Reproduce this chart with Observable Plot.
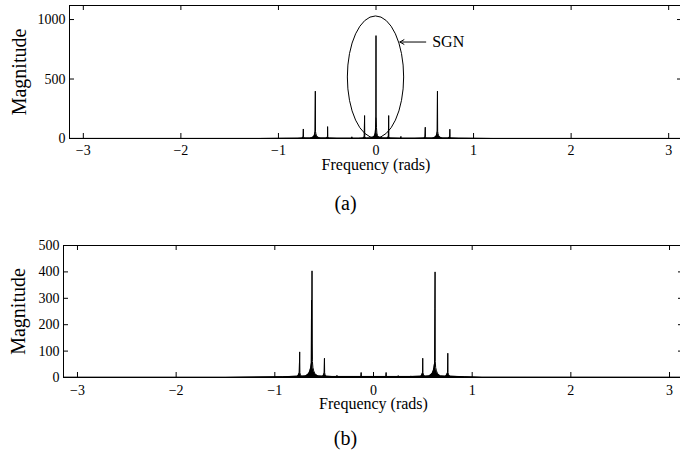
<!DOCTYPE html>
<html><head><meta charset="utf-8">
<script src="https://cdn.jsdelivr.net/npm/d3@7"></script>
<script src="https://cdn.jsdelivr.net/npm/@observablehq/plot@0.6"></script>
<style>
html,body{margin:0;padding:0;background:#fff;overflow:hidden;}
#chart svg{display:block;}
</style></head><body><div id="chart"></div>
<script>
const PI = Math.PI;
const xTicks = [-3, -2, -1, 0, 1, 2, 3];
const topYTicks = [0, 500, 1000];
const bottomYTicks = [0, 100, 200, 300, 400, 500];

// Panel (a): spectrum trace (frequency in rads, magnitude)
const topFreq = [-3.1416, -2.0, -1.2, -0.92, -0.80,
  -0.76, -0.75, -0.746, -0.745, -0.743, -0.738, -0.73,
  -0.68, -0.66, -0.645, -0.635, -0.628, -0.624, -0.622, -0.620, -0.616, -0.609, -0.598, -0.583, -0.565,
  -0.51, -0.50, -0.497, -0.496, -0.494, -0.49, -0.48,
  -0.40, -0.25, -0.247, -0.245, -0.18,
  -0.135, -0.125, -0.12, -0.117, -0.115, -0.11, -0.10, -0.06,
  -0.04, -0.025, -0.015, -0.008, -0.004, -0.002, -0.001, 0.0, 0.001, 0.003, 0.005, 0.009, 0.016, 0.026, 0.04,
  0.07, 0.11, 0.12, 0.127, 0.13, 0.132, 0.14, 0.15,
  0.25, 0.256, 0.258, 0.40,
  0.49, 0.50, 0.503, 0.505, 0.507, 0.51, 0.52,
  0.575, 0.592, 0.607, 0.617, 0.624, 0.628, 0.630, 0.632, 0.636, 0.643, 0.654, 0.668, 0.685,
  0.74, 0.75, 0.755, 0.757, 0.759, 0.765, 0.775,
  0.85, 0.95, 1.2, 2.0, 3.1416];
const topMag = [1, 1, 1, 2, 3,
  4, 8, 16, 80, 16, 8, 4,
  4, 7, 12, 22, 40, 60, 398, 60, 40, 22, 12, 7, 4,
  4, 8, 16, 100, 16, 8, 4,
  3, 3, 14, 3, 3,
  4, 8, 16, 193, 16, 8, 4, 5,
  8, 14, 24, 45, 90, 172, 172, 865, 172, 172, 90, 45, 24, 14, 8,
  5, 4, 8, 16, 193, 16, 8, 4,
  3, 17, 3, 3,
  4, 8, 16, 95, 16, 8, 4,
  4, 7, 12, 22, 40, 60, 398, 60, 40, 22, 12, 7, 4,
  4, 8, 16, 78, 16, 8, 4,
  3, 2, 1, 1, 1];

// Panel (b): spectrum trace
const bottomFreq = [-3.1416, -1.5, -0.92, -0.85,
  -0.77, -0.76, -0.752, -0.748, -0.746, -0.74, -0.73,
  -0.69, -0.67, -0.655, -0.645, -0.636, -0.630, -0.628, -0.626, -0.623, -0.621, -0.619, -0.614, -0.606, -0.596, -0.582, -0.562,
  -0.515, -0.505, -0.499, -0.497, -0.495, -0.49, -0.48,
  -0.42, -0.372, -0.37, -0.368,
  -0.2, -0.127, -0.125, -0.123,
  0.0, 0.126, 0.128, 0.13,
  0.25, 0.252, 0.254, 0.38, 0.382, 0.384,
  0.48, 0.49, 0.497, 0.499, 0.501, 0.508, 0.52,
  0.56, 0.58, 0.595, 0.605, 0.613, 0.619, 0.622, 0.624, 0.626, 0.63, 0.638, 0.648, 0.662, 0.68,
  0.73, 0.742, 0.75, 0.753, 0.755, 0.762, 0.775,
  0.85, 0.92, 1.1, 3.1416];
const bottomMag = [0.5, 0.5, 3, 4,
  5, 10, 18, 97, 18, 10, 5,
  6, 10, 16, 25, 38, 55, 293, 70, 404, 127, 60, 38, 25, 16, 10, 6,
  5, 10, 18, 73, 18, 10, 5,
  4, 4, 8, 4,
  4, 4, 19, 4,
  4, 4, 19, 4,
  4, 7, 4, 4, 6, 4,
  5, 10, 18, 73, 18, 10, 5,
  6, 10, 16, 25, 38, 55, 260, 400, 60, 38, 25, 16, 10, 6,
  5, 10, 18, 92, 18, 10, 5,
  4, 3, 1, 0.5];

// Annotation for panel (a)
const sgnLabel = "SGN";
const sgnText = {x: 0.576, y: 811};
const sgnArrow = {x1: 0.51, x2: 0.245, y: 811};
const sgnEllipse = {cx: 0, cy: 513, rx: 0.2885, ry: 513};

const topData = topFreq.map((f, i) => ({f, m: topMag[i]}));
const bottomData = bottomFreq.map((f, i) => ({f, m: bottomMag[i]}));

const serif = "'Liberation Serif', 'Times New Roman', serif";
const fmt = d => (d < 0 ? "\u2212" + Math.abs(d) : String(d));

function panel({data, yDomain, yTicks, height, marginTop, marginBottom, marginLeft, marginRight, tickPad, freqDy, capDy, capDx, magDx, caption, extra = []}) {
  const width = 684;
  const plotH = height - marginTop - marginBottom;
  const plotW = width - marginLeft - marginRight;
  const tk = 5;
  return Plot.plot({
    width, height, marginTop, marginBottom, marginLeft, marginRight,
    style: {fontFamily: serif, fontSize: "14px", background: "white", color: "black", maxWidth: "none"},
    x: {domain: [-PI, PI]},
    y: {domain: yDomain},
    marks: [
      Plot.areaY(data, {x: "f", y: "m", fill: "black"}),
      Plot.lineY(data, {x: "f", y: "m", stroke: "black", strokeWidth: 1}),
      Plot.frame({stroke: "black", strokeWidth: 1}),
      Plot.ruleX(xTicks, {x: d => d, insetTop: plotH - tk, stroke: "black"}),
      Plot.ruleX(xTicks, {x: d => d, insetBottom: plotH - tk, stroke: "black"}),
      Plot.ruleY(yTicks, {y: d => d, insetRight: plotW - tk, stroke: "black"}),
      Plot.ruleY(yTicks, {y: d => d, insetLeft: plotW - tk, stroke: "black"}),
      Plot.axisX({ticks: xTicks, tickFormat: fmt, tickSize: 0, tickPadding: tickPad, fontSize: 14, label: null}),
      Plot.axisY({ticks: yTicks, tickFormat: fmt, tickSize: 0, tickPadding: 4, fontSize: 14, label: null}),
      Plot.text(["Frequency (rads)"], {frameAnchor: "bottom", dy: freqDy, fontSize: 16, fill: "black"}),
      Plot.text([caption], {frameAnchor: "bottom", dy: capDy, dx: capDx, fontSize: 20, fill: "black"}),
      Plot.text(["Magnitude"], {frameAnchor: "left", textAnchor: "middle", rotate: -90, dx: magDx, fontSize: 20, fill: "black"}),
      ...extra
    ]
  });
}

const ellipseMark = (index, scales) => {
  const sx = scales.x, sy = scales.y;
  const cx = sx(sgnEllipse.cx), cy = sy(sgnEllipse.cy);
  const rx = Math.abs(sx(sgnEllipse.cx + sgnEllipse.rx) - cx);
  const ry = Math.abs(sy(sgnEllipse.cy + sgnEllipse.ry) - cy);
  return d3.create("svg:ellipse")
    .attr("cx", cx).attr("cy", cy).attr("rx", rx).attr("ry", ry)
    .attr("fill", "none").attr("stroke", "black").attr("stroke-width", 1)
    .node();
};

const topPlot = panel({
  data: topData, yDomain: [0, 1118], yTicks: topYTicks,
  height: 226, marginTop: 5, marginBottom: 88, marginLeft: 69, marginRight: 2,
  tickPad: 7, freqDy: 31.5, capDy: 71, capDx: -30.5, magDx: -50, caption: "(a)",
  extra: [
    ellipseMark,
    Plot.arrow([sgnArrow], {x1: "x1", x2: "x2", y1: "y", y2: "y", stroke: "black", strokeWidth: 1, headLength: 7}),
    Plot.text([sgnText], {x: "x", y: "y", text: () => sgnLabel, textAnchor: "start", fontSize: 16, fill: "black"})
  ]
});

const bottomPlot = panel({
  data: bottomData, yDomain: [0, 500], yTicks: bottomYTicks,
  height: 227, marginTop: 19, marginBottom: 76, marginLeft: 63, marginRight: 1,
  tickPad: 8, freqDy: 31, capDy: 67, capDx: -28, magDx: -45, caption: "(b)"
});

const chart = document.getElementById("chart");
chart.append(topPlot, bottomPlot);
</script>
</body></html>
